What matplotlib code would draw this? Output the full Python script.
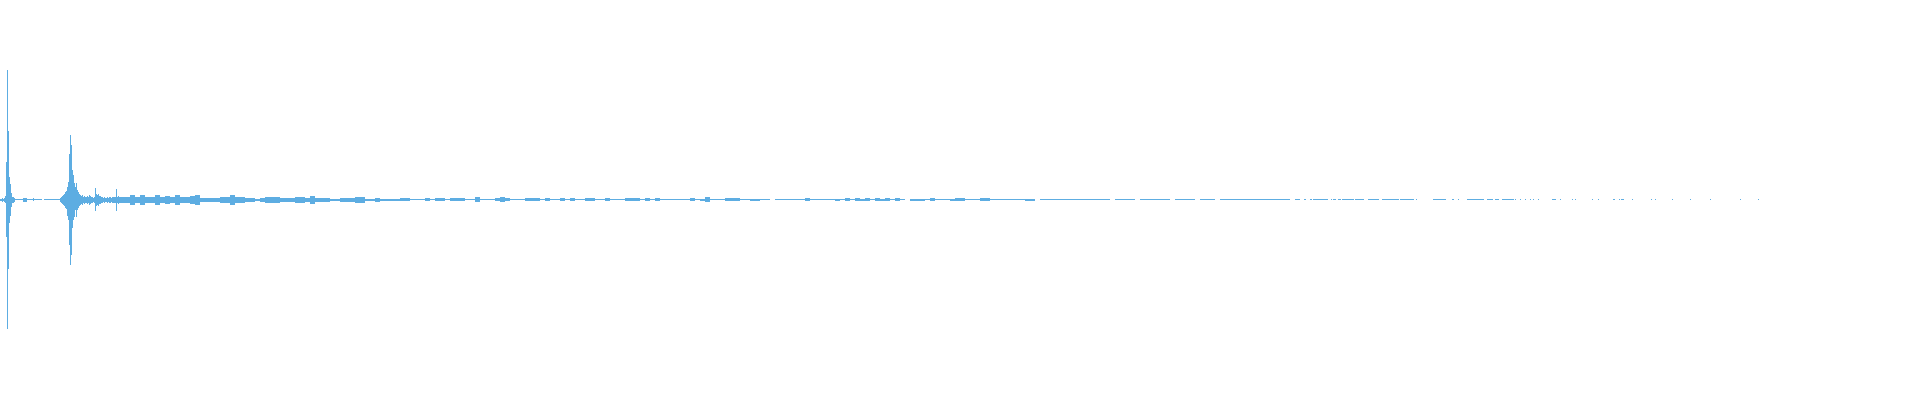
import numpy as np
import matplotlib
matplotlib.use("Agg")
import matplotlib.pyplot as plt

# Waveform amplitudes in thousandths of full scale (1000 = full height / 2).
# Head: per-sample positive peak and negative peak magnitude, samples 0-119
head_top = [5, 5, 10, 5, 10, 20, 190, 650, 345, 115, 80, 35, 15, 15, 10,
            3, 3, 3, 3, 3, 3, 3, 3, 10, 10, 10, 10, 3, 3, 3, 3, 3, 3, 8,
            3, 3, 3, 3, 3, 3, 3, 3, 0, 0, 3, 3, 3, 3, 3, 3, 3, 3, 3, 3, 3,
            3, 3, 3, 3, 3,
            10, 15, 20, 25, 30, 40, 45, 65, 90, 230, 325, 275, 150, 125, 85,
            65, 85, 50, 40, 30, 25, 20, 25, 15, 20, 15, 15, 20, 15, 25,
            20, 15, 15, 10, 15, 60, 30, 25, 30, 20, 20, 15, 15, 10, 15,
            10, 10, 15, 10, 15, 15, 10, 15, 15, 15, 15, 55, 15, 20, 15]
head_bot = [5, 5, 10, 5, 10, 18, 185, 645, 345, 115, 80, 35, 15, 15, 10,
            3, 3, 3, 3, 3, 3, 3, 3, 10, 10, 10, 10, 3, 3, 3, 3, 3, 3, 8,
            3, 3, 3, 3, 3, 3, 3, 3, 0, 0, 3, 3, 3, 3, 3, 3, 3, 3, 3, 3, 3,
            3, 3, 3, 3, 3,
            10, 15, 20, 25, 30, 40, 45, 80, 100, 225, 325, 275, 140, 100, 85,
            50, 85, 50, 40, 30, 25, 20, 25, 15, 20, 15, 15, 20, 15, 25,
            20, 15, 15, 10, 15, 55, 30, 25, 30, 20, 20, 15, 15, 10, 15,
            10, 10, 15, 10, 15, 15, 10, 15, 15, 15, 15, 55, 15, 20, 15]

# Body: symmetric peak amplitude per block of 5 samples, samples 120-1299
body_block = 5
body_amp = [
    # 120-195
    15, 15, 25, 15, 25, 15, 15, 25, 15, 20, 15, 25, 15, 15, 20, 25,
    # 200-395
    10, 10, 10, 10, 15, 15, 25, 15, 15, 10, 10, 5, 10, 15, 15, 15, 10, 10, 10, 15,
    15, 10, 20, 10, 10, 10, 5, 5, 10, 10, 10, 15, 15, 5, 5, 10, 5, 5, 5, 5,
    # 400-695
    8, 8, 4, 4, 4, 8, 4, 8, 8, 4, 8, 8, 8, 4, 4, 14, 4, 4, 4, 8,
    14, 8, 4, 4, 4, 8, 8, 8, 4, 8, 4, 4, 8, 4, 8, 4, 4, 8, 8, 4,
    4, 8, 4, 4, 4, 8, 8, 8, 4, 8, 4, 8, 4, 4, 4, 4, 4, 4, 8, 4,
    # 700-995
    5, 12, 4, 3, 3, 6, 7, 6, 3, 3, 5, 5, 3, 3, 0, 3, 3, 3, 4, 4,
    4, 8, 3, 4, 4, 4, 3, 5, 3, 8, 3, 6, 5, 7, 3, 6, 5, 6, 3, 8,
    4, 0, 5, 5, 5, 4, 7, 4, 4, 3, 5, 6, 6, 4, 4, 3, 6, 7, 3, 3,
    # 1000-1295
    3, 3, 3, 3, 3, 5, 5, 0, 3, 3, 3, 3, 3, 3, 3, 3, 3, 3, 3, 3,
    3, 3, 0, 3, 3, 4, 3, 0, 3, 3, 3, 3, 3, 3, 0, 3, 3, 3, 3, 0,
    3, 3, 3, 0, 3, 3, 3, 3, 3, 3, 3, 3, 3, 3, 3, 3, 3, 3, 0, 3,
]

# Sparse tail: runs of faint non-silent samples (start sample, length)
sparse_start = [1304, 1310, 1313, 1331, 1333, 1338, 1342, 1355, 1368, 1382,
                1400, 1416, 1433, 1452, 1458, 1467, 1487, 1495, 1502, 1515,
                1520, 1525, 1530, 1533, 1538, 1552, 1560, 1572, 1575, 1592,
                1598, 1613, 1619, 1621, 1632, 1651, 1655, 1672, 1690, 1710,
                1740, 1758]
sparse_len = [2, 2, 15, 1, 3, 3, 12, 9, 11, 17,
              14, 1, 13, 2, 1, 17, 6, 4, 12, 1,
              1, 1, 1, 1, 1, 4, 1, 1, 1, 1,
              1, 2, 1, 3, 1, 1, 1, 1, 1, 1,
              1, 1]
sparse_amp = 3

n_samples = 1920
color = "#5DADE2"

# Assemble per-sample envelope
top = np.zeros(n_samples)
bot = np.zeros(n_samples)
top[:len(head_top)] = head_top
bot[:len(head_bot)] = head_bot
b0 = len(head_top)
body = np.repeat(np.array(body_amp, dtype=float), body_block)
top[b0:b0 + len(body)] = body
bot[b0:b0 + len(body)] = body
for s, l in zip(sparse_start, sparse_len):
    top[s:s + l] = sparse_amp
    bot[s:s + l] = sparse_amp
top /= 1000.0
bot /= 1000.0

x = np.arange(n_samples)
mask = (top + bot) > 0

fig = plt.figure(figsize=(19.2, 4), dpi=100)
fig.patch.set_facecolor("white")
ax = fig.add_axes([0, 0, 1, 1])
ax.bar(x[mask], (top + bot)[mask], bottom=-bot[mask], width=1.0,
       align="edge", color=color, linewidth=0)
ax.set_xlim(0, n_samples)
ax.set_ylim(-1.0025, 0.9975)
ax.axis("off")
fig.savefig("out.png", dpi=100, facecolor="white")
